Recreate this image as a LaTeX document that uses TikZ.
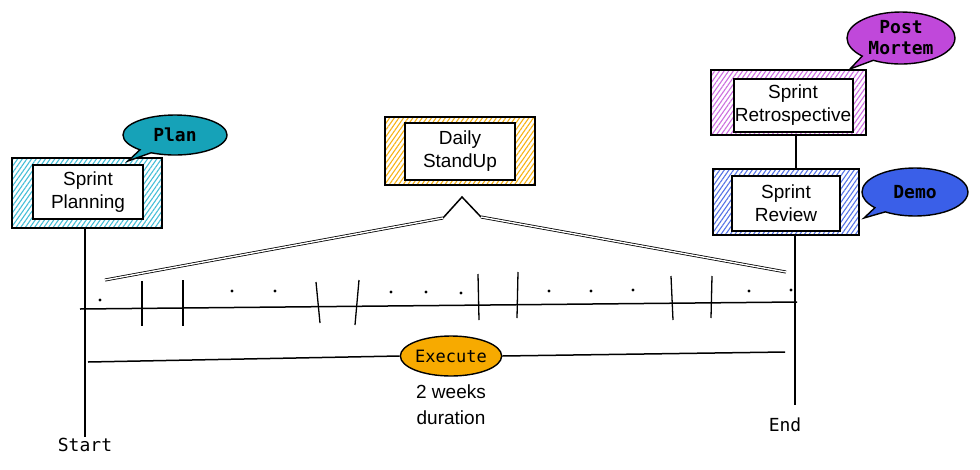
\documentclass[tikz,border=0pt]{standalone}
\usepackage{fontspec}
\setmainfont{Liberation Sans}
\newfontfamily\codefont{DejaVu Sans Mono}
\usepackage{xcolor}
\definecolor{tealplan}{RGB}{22,162,184}
\definecolor{hatchcyan}{RGB}{70,190,215}
\definecolor{amberup}{RGB}{248,178,20}
\definecolor{ambexec}{RGB}{247,170,0}
\definecolor{hatchviolet}{RGB}{205,110,225}
\definecolor{violetpm}{RGB}{192,72,218}
\definecolor{hatchblue}{RGB}{85,115,230}
\definecolor{bluedemo}{RGB}{58,95,232}
\usetikzlibrary{positioning,shapes.geometric,shapes.callouts,patterns.meta}

\tikzset{
  stagebox/.style={draw=black, line width=2pt, inner sep=0pt,
    pattern={Lines[angle=55,distance=3.8pt,line width=1.1pt]}, pattern color=#1},
  stagetext/.style={draw=black, fill=white, line width=2pt, inner sep=0pt,
    align=center, font=\fontsize{19}{23}\selectfont},
  bubble/.style={ellipse callout, draw=black, line width=1.4pt, fill=#1, inner sep=0pt,
    align=center, font=\codefont\bfseries\fontsize{18}{21}\selectfont},
  endlabel/.style={font=\codefont\fontsize{18}{21}\selectfont},
  sketch/.style={line width=1.5pt},
  twin/.style={double, double distance=1.4pt, line width=0.8pt}
}

\begin{document}
\begin{tikzpicture}[x=1pt, y=-1pt]
    \useasboundingbox (0,0) rectangle (980,469);

    % Sprint planning, at the start
    \node[stagebox=hatchcyan, minimum width=150pt, minimum height=70pt] (planning) at (87,193) {};
    \node[stagetext, minimum width=110pt, minimum height=54pt] (planningtxt) at (88,192) {Sprint\\Planning};
    \node[bubble=tealplan, minimum width=104pt, minimum height=40pt,
          callout absolute pointer={(128,161)}] (plan) at (175,135) {Plan};

    % Daily standup
    \node[stagebox=amberup, minimum width=150pt, minimum height=68pt] (standup) at (460,151) {};
    \node[stagetext, minimum width=110pt, minimum height=57pt] (standuptxt) at (460,151.5) {Daily\\StandUp};

    % Retrospective and review, at the end
    \node[stagebox=hatchviolet, minimum width=155pt, minimum height=65pt] (retro) at (788,102) {};
    \node[stagetext, minimum width=119pt, minimum height=53pt] (retrotxt) at (793,105) {Sprint\\Retrospective};
    \node[bubble=violetpm, minimum width=108pt, minimum height=52pt,
          callout absolute pointer={(850,69)}] (postmortem) at (901,38) {Post\\Mortem};

    \node[stagebox=hatchblue, minimum width=146pt, minimum height=66pt] (review) at (786,202) {};
    \node[stagetext, minimum width=108pt, minimum height=55pt] (reviewtxt) at (786,203.5) {Sprint\\Review};
    \node[bubble=bluedemo, minimum width=106pt, minimum height=48pt,
          callout absolute pointer={(864,218)}] (demo) at (915,192) {Demo};

    \draw[sketch] ([xshift=8pt]retro.south) -- ([xshift=10pt]review.north);

    % Start and end markers
    \node[endlabel] (start) at (85,445) {Start};
    \node[endlabel] (finish) at (785,425) {End};
    \draw[sketch] ([xshift=-2pt]planning.south) -- ([yshift=-2pt]start.north);
    \draw[sketch, shorten >=10pt] ([xshift=9pt]review.south) -- ([xshift=10pt]finish.north);

    % Timeline with the daily ticks
    \coordinate (tlleft) at (80,309);
    \coordinate (tlright) at (797,302);
    \draw[sketch] (tlleft) -- (tlright);
    \foreach \xa/\ya/\xb/\yb in {142/281/142/326, 183/280/183/326, 316/282/320/323, 359/280/355/325,
                                 478/274/479/320, 518/272/517/318, 671/276/673/320, 712/276/711/318}
      \draw[line width=1.3pt] (\xa,\ya) -- (\xb,\yb);
    \foreach \xd/\yd in {100/300, 232/291, 275/291, 391/292, 426/292, 461/293,
                         549/291, 591/291, 633/290, 749/291, 791/290}
      \fill (\xd,\yd) circle (1.6pt);

    % Standup repeats across the sprint
    \coordinate (apex) at (462,197);
    \coordinate (apexl) at (443,218);
    \coordinate (apexr) at (481,217);
    \coordinate (spanl) at (105,280);
    \coordinate (spanr) at (786,272);
    \draw[sketch] (apexl) -- (apex) -- (apexr);
    \draw[twin] (apexl) -- (spanl);
    \draw[twin] (apexr) -- (spanr);

    % Execute for two weeks
    \node[ellipse, draw=black, line width=1.4pt, fill=ambexec, inner sep=0pt,
          minimum width=92pt, minimum height=40pt,
          font=\codefont\fontsize{17}{20}\selectfont] (execute) at (451,356) {Execute};
    \coordinate (exleft) at (88,362);
    \coordinate (exright) at (785,352);
    \draw[sketch] (exleft) -- (execute.west);
    \draw[sketch] (execute.east) -- (exright);
    \node[align=center, font=\fontsize{19}{26}\selectfont, below=4pt of execute] (duration) {2 weeks\\duration};
\end{tikzpicture}
\end{document}
